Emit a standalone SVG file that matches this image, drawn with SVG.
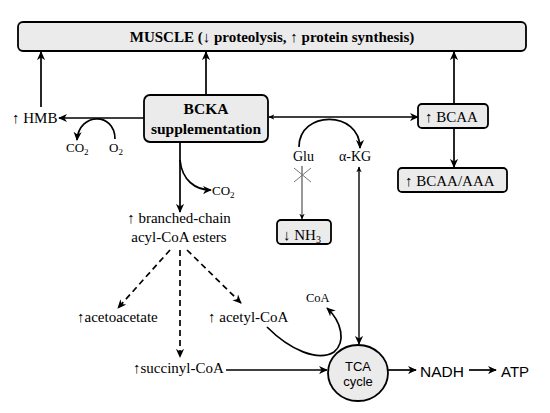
<svg xmlns="http://www.w3.org/2000/svg" width="550" height="413" viewBox="0 0 550 413" font-family="'Liberation Serif', 'Times New Roman', 'DejaVu Serif', serif" font-size="15">
<defs>
<marker id="ah" viewBox="0 0 10 10" refX="9" refY="5" markerWidth="9" markerHeight="9" markerUnits="userSpaceOnUse" orient="auto-start-reverse">
<path d="M0,0.5 L10,5 L0,9.5 L3,5 z" fill="#000"/>
</marker>
<marker id="ahs" viewBox="0 0 10 10" refX="9" refY="5" markerWidth="6" markerHeight="6" markerUnits="userSpaceOnUse" orient="auto-start-reverse">
<path d="M0,0.5 L10,5 L0,9.5 L3,5 z" fill="#000"/>
</marker>
</defs>
<style>
.box{fill:#ebebeb;stroke:#000;stroke-width:1.8}
.ln{fill:none;stroke:#000;stroke-width:1.7}
.dash{fill:none;stroke:#000;stroke-width:1.7;stroke-dasharray:6,4}
text{fill:#000}
</style>
<rect width="550" height="413" fill="#fff"/>

<g id="muscle">
<rect class="box" x="18" y="22" width="508" height="29" rx="5"/>
<text x="272" y="42" text-anchor="middle" font-weight="bold">MUSCLE  (↓ proteolysis, ↑ protein synthesis)</text>
</g>

<g id="bcka">
<rect class="box" x="144" y="95" width="124" height="47" rx="6"/>
<text x="206" y="114" text-anchor="middle" font-weight="bold" font-size="15.5">BCKA</text>
<text x="206" y="134" text-anchor="middle" font-weight="bold" font-size="15.5">supplementation</text>
</g>

<g id="hmb"><text x="12" y="123">↑ HMB</text></g>
<g id="co2a"><text x="66" y="152" font-size="13">CO<tspan dy="3" font-size="9">2</tspan></text></g>
<g id="o2"><text x="109" y="152" font-size="13">O<tspan dy="3" font-size="9">2</tspan></text></g>
<g id="co2b"><text x="212" y="195" font-size="13">CO<tspan dy="3" font-size="9">2</tspan></text></g>

<g id="esters">
<text x="179" y="223" text-anchor="middle">↑ branched-chain</text>
<text x="179" y="242" text-anchor="middle">acyl-CoA esters</text>
</g>

<g id="acetoacetate"><text x="77" y="322">↑acetoacetate</text></g>
<g id="acetylcoa"><text x="208" y="322">↑ acetyl-CoA</text></g>
<g id="succinylcoa"><text x="133" y="373">↑succinyl-CoA</text></g>
<g id="coa"><text x="306" y="302" font-size="12.5">CoA</text></g>

<g id="tca" font-family="'Liberation Sans', Arial, sans-serif">
<ellipse cx="358" cy="373" rx="30" ry="28" fill="#ebebeb" stroke="#000" stroke-width="1.8"/>
<text x="358" y="371" text-anchor="middle" font-size="13">TCA</text>
<text x="358" y="386" text-anchor="middle" font-size="13">cycle</text>
</g>

<g id="nadh"><text x="420" y="377" font-family="'Liberation Sans', Arial, sans-serif" font-size="15.5">NADH</text></g>
<g id="atp"><text x="501" y="377" font-family="'Liberation Sans', Arial, sans-serif" font-size="15">ATP</text></g>

<g id="glu"><text x="293" y="161" font-size="14">Glu</text></g>
<g id="akg"><text x="339" y="161" font-size="14">α-KG</text></g>

<g id="bcaa">
<rect class="box" x="418" y="104" width="70" height="24" rx="4"/>
<text x="425" y="122">↑ BCAA</text>
</g>

<g id="bcaaaaa">
<rect class="box" x="398" y="168" width="109" height="24" rx="4"/>
<text x="405" y="186">↑ BCAA/AAA</text>
</g>

<g id="nh3">
<rect class="box" x="277" y="220" width="54" height="24" rx="4"/>
<text x="283" y="240">↓ NH<tspan dy="3" font-size="10">3</tspan></text>
</g>

<g id="connectors">
<line class="ln" x1="41" y1="107" x2="41" y2="52" marker-end="url(#ah)"/>
<line class="ln" x1="206" y1="95" x2="206" y2="52" marker-end="url(#ah)"/>
<line class="ln" x1="454" y1="104" x2="454" y2="52" marker-end="url(#ah)"/>
<line class="ln" x1="144" y1="118" x2="59" y2="118" marker-end="url(#ah)"/>
<path class="ln" d="M115,139 C115,112 79,112 77,140" marker-end="url(#ah)"/>
<line class="ln" x1="180" y1="142" x2="180" y2="212" marker-end="url(#ah)"/>
<path class="ln" d="M180,160 C182,180 195,190 211,190" marker-end="url(#ah)"/>
<line class="dash" x1="170" y1="250" x2="118" y2="308" marker-end="url(#ah)"/>
<line class="dash" x1="180" y1="250" x2="180" y2="357" marker-end="url(#ah)"/>
<line class="dash" x1="187" y1="250" x2="241" y2="303" marker-end="url(#ah)"/>
<line class="ln" x1="226" y1="370" x2="327" y2="370" marker-end="url(#ah)"/>
<path class="ln" d="M267,327 C290,350 318,362 334,352 C346,342 342,322 327,308" marker-end="url(#ah)"/>
<line x1="359" y1="167" x2="359" y2="344" stroke="#000" stroke-width="1.4" marker-start="url(#ahs)" marker-end="url(#ah)"/>
<line class="ln" x1="388" y1="370" x2="416" y2="370" marker-end="url(#ah)"/>
<line class="ln" x1="469" y1="370" x2="496" y2="370" marker-end="url(#ah)"/>
<line class="ln" x1="269" y1="117" x2="418" y2="117" marker-start="url(#ahs)" marker-end="url(#ah)"/>
<path class="ln" d="M299,147 C299,110 360,110 360,148" marker-end="url(#ah)"/>
<line class="ln" x1="454" y1="128" x2="454" y2="167" marker-end="url(#ah)"/>
<line x1="302" y1="166" x2="302" y2="219" stroke="#444" stroke-width="1.1" marker-end="url(#ahs)"/>
<line x1="294" y1="168" x2="311" y2="182" stroke="#777" stroke-width="1"/>
<line x1="294" y1="182" x2="311" y2="168" stroke="#777" stroke-width="1"/>
</g>
</svg>
